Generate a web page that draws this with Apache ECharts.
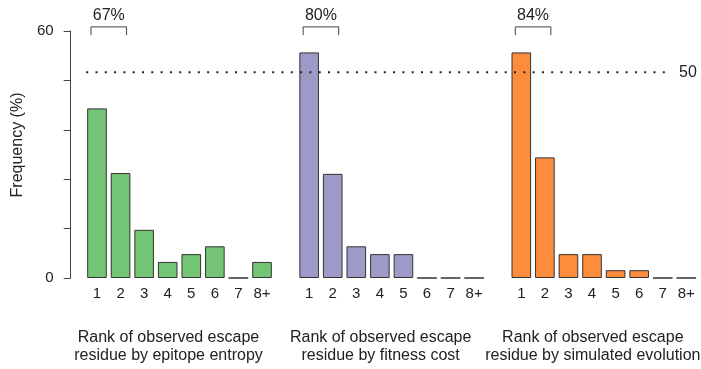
<!DOCTYPE html>
<html>
<head>
<meta charset="utf-8">
<script src="https://cdn.jsdelivr.net/npm/echarts@6/dist/echarts.min.js"></script>
<style>
  html, body { margin: 0; padding: 0; background: #fff; }
  #chart { width: 701px; height: 369px; }
</style>
</head>
<body>
<div id="chart"></div>
<script>
// Rank labels shared by the three panels
const rankLabels = ['1', '2', '3', '4', '5', '6', '7', '8+'];

// Frequency (%) of the observed escape residue at each rank
const entropyValues   = [41.2, 25.5, 11.7, 3.9, 5.8, 7.7, 0, 3.9];
const fitnessValues   = [54.8, 25.3, 7.7, 5.8, 5.8, 0, 0, 0];
const simulatedValues = [54.8, 29.3, 5.8, 5.8, 1.9, 1.9, 0, 0];

// Share of escape residues ranked 1 or 2, per panel
const topTwoLabels = ['67%', '80%', '84%'];

const panelTitles = [
  'Rank of observed escape\nresidue by epitope entropy',
  'Rank of observed escape\nresidue by fitness cost',
  'Rank of observed escape\nresidue by simulated evolution'
];

const referenceLevel = 50;
const yTicks = [0, 12, 24, 36, 48, 60];

// Lay the three panels out on one category axis, one empty slot between panels
const panels = [entropyValues, fitnessValues, simulatedValues];
const colors = ['#74c476', '#9e9ac8', '#fd8d3c'];
const slot = rankLabels.length + 1;
const nSlots = panels.length * slot - 1;

const categories = [];
for (let i = 0; i < nSlots; i++) {
  const r = i % slot;
  categories.push(r < rankLabels.length ? rankLabels[r] : '');
}

const barSeries = panels.map((vals, p) => {
  const data = new Array(nSlots).fill(null);
  vals.forEach((v, r) => { data[p * slot + r] = v; });
  return {
    type: 'bar',
    data: data,
    barWidth: 19.6,
    barGap: '-100%',
    itemStyle: { color: colors[p], borderColor: '#333', borderWidth: 1 },
    z: 2
  };
});

// Brackets over ranks 1 and 2 with the combined share
const bracketData = topTwoLabels.map((t, p) => [p * slot, p * slot + 1, t]);

const textColor = '#222';
const font = 'Liberation Sans, Arial, Helvetica, sans-serif';

const chart = echarts.init(document.getElementById('chart'), null, { renderer: 'canvas' });

chart.setOption({
  animation: false,
  grid: { left: 85.2, right: 2.9, top: 31, bottom: 91 },
  xAxis: {
    type: 'category',
    data: categories,
    axisLine: { show: false },
    axisTick: { show: false },
    axisLabel: { color: textColor, fontSize: 15, fontFamily: font, margin: 8, interval: 0 }
  },
  yAxis: {
    type: 'value',
    min: yTicks[0],
    max: yTicks[yTicks.length - 1],
    interval: yTicks[1] - yTicks[0],
    offset: 14.5,
    splitLine: { show: false },
    axisLine: { show: true, lineStyle: { color: '#444', width: 1 } },
    axisTick: { show: true, length: 7, lineStyle: { color: '#444', width: 1 } },
    axisLabel: {
      color: textColor, fontSize: 15, fontFamily: font, margin: 17,
      formatter: v => (v === yTicks[0] || v === yTicks[yTicks.length - 1]) ? String(v) : ''
    }
  },
  series: barSeries.concat([
    {
      type: 'custom',
      data: bracketData,
      z: 5,
      renderItem: function (params, api) {
        const a = api.coord([api.value(0), 61]);
        const b = api.coord([api.value(1), 61]);
        const low = api.coord([api.value(0), 59])[1];
        const x1 = a[0] - 6, x2 = b[0] + 6, y = a[1];
        return {
          type: 'group',
          children: [
            {
              type: 'polyline',
              shape: { points: [[x1, low], [x1, y], [x2, y], [x2, low]] },
              style: { stroke: '#444', lineWidth: 1, fill: null }
            },
            {
              type: 'text',
              style: {
                x: (x1 + x2) / 2, y: y - 11,
                text: bracketData[params.dataIndex][2],
                fill: textColor, font: '16px ' + font,
                align: 'center', verticalAlign: 'middle'
              }
            }
          ]
        };
      }
    },
    {
      type: 'custom',
      data: [[0, referenceLevel]],
      z: 6,
      renderItem: function (params, api) {
        const cs = params.coordSys;
        const y = api.coord([0, api.value(1)])[1];
        const xEnd = cs.x + cs.width - 26;
        return {
          type: 'group',
          children: [
            {
              type: 'line',
              shape: { x1: cs.x + 1, y1: y, x2: xEnd, y2: y },
              style: { stroke: '#222', lineWidth: 2, lineDash: [2, 7.3], fill: null }
            },
            {
              type: 'text',
              style: {
                x: xEnd + 7, y: y,
                text: String(api.value(1)),
                fill: textColor, font: '16px ' + font,
                align: 'left', verticalAlign: 'middle'
              }
            }
          ]
        };
      }
    }
  ])
});

// Panel titles under each group of bars, plus the y-axis name
const half = (rankLabels.length - 1) / 2;
const graphics = panelTitles.map((t, p) => {
  const xa = chart.convertToPixel({ xAxisIndex: 0 }, p * slot + Math.floor(half));
  const xb = chart.convertToPixel({ xAxisIndex: 0 }, p * slot + Math.ceil(half));
  return {
    type: 'text',
    x: (xa + xb) / 2 - 11,
    y: 329,
    style: {
      text: t, fill: textColor, font: '16px ' + font,
      align: 'center', verticalAlign: 'top', lineHeight: 18
    }
  };
});
graphics.push({
  type: 'text',
  x: 18, y: 145,
  rotation: Math.PI / 2,
  style: {
    text: 'Frequency (%)', fill: textColor, font: '16px ' + font,
    align: 'center', verticalAlign: 'middle'
  }
});
chart.setOption({ graphic: graphics });
</script>
</body>
</html>
